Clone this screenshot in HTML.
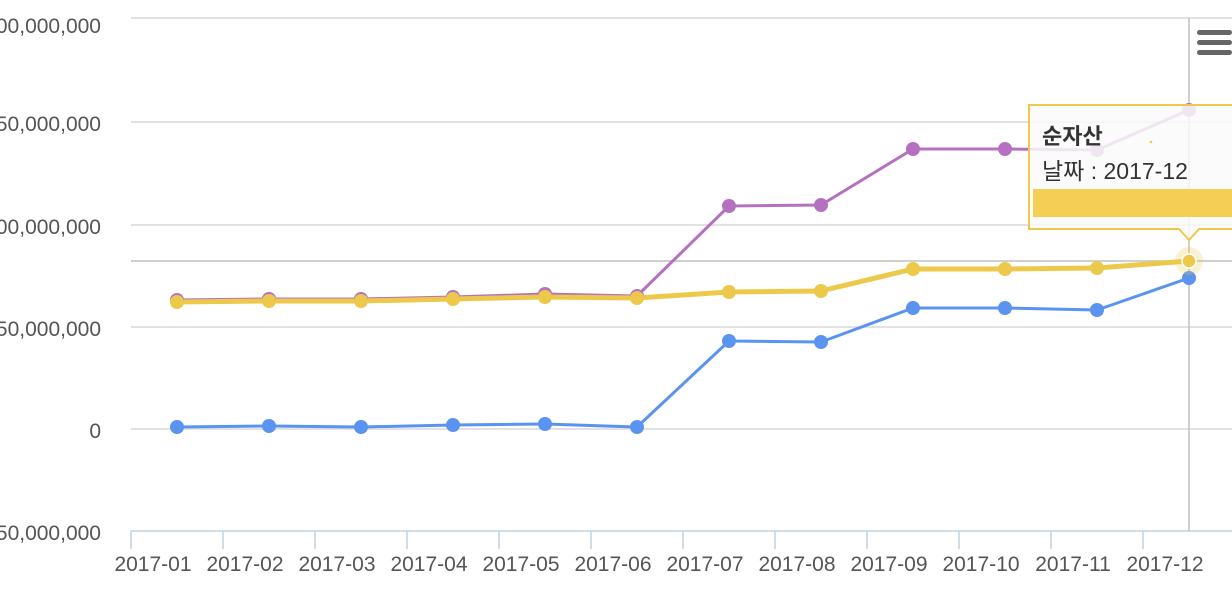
<!DOCTYPE html>
<html><head><meta charset="utf-8"><style>
html,body{margin:0;padding:0;background:#fff;width:1232px;height:592px;overflow:hidden}
svg{display:block;font-family:"Liberation Sans","Noto Sans CJK KR",sans-serif}
</style></head><body>
<svg width="1232" height="592" viewBox="0 0 1232 592">
<g stroke="#d8d8d8" stroke-width="1.5">
<line x1="131" y1="18" x2="1232" y2="18"/>
<line x1="131" y1="122" x2="1232" y2="122"/>
<line x1="131" y1="225" x2="1232" y2="225"/>
<line x1="131" y1="327" x2="1232" y2="327"/>
<line x1="131" y1="429" x2="1232" y2="429"/>
</g>
<line x1="131" y1="531" x2="1232" y2="531" stroke="#c0d0e0" stroke-width="1.5"/>
<g stroke="#c0d0e0" stroke-width="1.5">
<line x1="131" y1="531" x2="131" y2="549"/><line x1="223" y1="531" x2="223" y2="549"/><line x1="315" y1="531" x2="315" y2="549"/><line x1="407" y1="531" x2="407" y2="549"/><line x1="499" y1="531" x2="499" y2="549"/><line x1="591" y1="531" x2="591" y2="549"/><line x1="683" y1="531" x2="683" y2="549"/><line x1="775" y1="531" x2="775" y2="549"/><line x1="867" y1="531" x2="867" y2="549"/><line x1="959" y1="531" x2="959" y2="549"/><line x1="1051" y1="531" x2="1051" y2="549"/><line x1="1143" y1="531" x2="1143" y2="549"/>
</g>
<g fill="#555" font-size="21" text-anchor="end">
<text x="101" y="33">200,000,000</text>
<text x="101" y="131">150,000,000</text>
<text x="101" y="234">100,000,000</text>
<text x="101" y="336">50,000,000</text>
<text x="101" y="438">0</text>
<text x="101" y="540">-50,000,000</text>
</g>
<g fill="#555" font-size="21" text-anchor="middle">
<text x="153" y="571">2017-01</text><text x="245" y="571">2017-02</text><text x="337" y="571">2017-03</text><text x="429" y="571">2017-04</text><text x="521" y="571">2017-05</text><text x="613" y="571">2017-06</text><text x="705" y="571">2017-07</text><text x="797" y="571">2017-08</text><text x="889" y="571">2017-09</text><text x="981" y="571">2017-10</text><text x="1073" y="571">2017-11</text><text x="1165" y="571">2017-12</text>
</g>
<line x1="1189" y1="18" x2="1189" y2="531" stroke="#c0c0c0" stroke-width="1.5"/>
<line x1="131" y1="261" x2="1232" y2="261" stroke="#c0c0c0" stroke-width="1.5"/>
<g fill="none" stroke-linejoin="round">
<polyline stroke="#b571c0" stroke-width="3" points="177,300 269,299 361,299 453,297 545,294 637,296 729,206 821,205 913,149 1005,149 1097,150 1189,110"/>
<polyline stroke="#5b93f0" stroke-width="3" points="177,427 269,426 361,427 453,425 545,424 637,427 729,341 821,342 913,308 1005,308 1097,310 1189,278"/>
<polyline stroke="#ecc94b" stroke-width="5" points="177,302 269,301 361,301 453,299 545,297 637,298 729,292 821,291 913,269 1005,269 1097,268 1189,261"/>
</g>
<g fill="#b571c0">
<circle cx="177" cy="300" r="7"/><circle cx="269" cy="299" r="7"/><circle cx="361" cy="299" r="7"/><circle cx="453" cy="297" r="7"/><circle cx="545" cy="294" r="7"/><circle cx="637" cy="296" r="7"/><circle cx="729" cy="206" r="7"/><circle cx="821" cy="205" r="7"/><circle cx="913" cy="149" r="7"/><circle cx="1005" cy="149" r="7"/><circle cx="1097" cy="150" r="7"/><circle cx="1189" cy="110" r="7"/>
</g>
<g fill="#5b93f0">
<circle cx="177" cy="427" r="7"/><circle cx="269" cy="426" r="7"/><circle cx="361" cy="427" r="7"/><circle cx="453" cy="425" r="7"/><circle cx="545" cy="424" r="7"/><circle cx="637" cy="427" r="7"/><circle cx="729" cy="341" r="7"/><circle cx="821" cy="342" r="7"/><circle cx="913" cy="308" r="7"/><circle cx="1005" cy="308" r="7"/><circle cx="1097" cy="310" r="7"/><circle cx="1189" cy="278" r="7"/>
</g>
<circle cx="1189" cy="261" r="14" fill="#ecc94b" opacity="0.25"/>
<g fill="#ecc94b">
<circle cx="177" cy="302" r="7"/><circle cx="269" cy="301" r="7"/><circle cx="361" cy="301" r="7"/><circle cx="453" cy="299" r="7"/><circle cx="545" cy="297" r="7"/><circle cx="637" cy="298" r="7"/><circle cx="729" cy="292" r="7"/><circle cx="821" cy="291" r="7"/><circle cx="913" cy="269" r="7"/><circle cx="1005" cy="269" r="7"/><circle cx="1097" cy="268" r="7"/><circle cx="1189" cy="261" r="7" stroke="#fff" stroke-width="1.5"/>
</g>
<g fill="#666">
<rect x="1197" y="30" width="35" height="5" rx="2.5"/>
<rect x="1197" y="40" width="35" height="5" rx="2.5"/>
<rect x="1197" y="50" width="35" height="5" rx="2.5"/>
</g>
<path d="M1029,105 H1234 V229 H1199 L1189,240 L1179,229 H1029 Z" fill="rgba(250,250,250,0.85)" stroke="#ecc94b" stroke-width="2"/>
<rect x="1033" y="189" width="200" height="28" fill="#f5cf55"/>
<circle cx="1151" cy="142" r="1.3" fill="#ecc94b"/>
<text x="1042" y="144" font-size="22" font-weight="bold" fill="#333">순자산</text>
<text x="1042" y="179" font-size="23" fill="#333">날짜 : 2017-12</text>
</svg>
</body></html>
